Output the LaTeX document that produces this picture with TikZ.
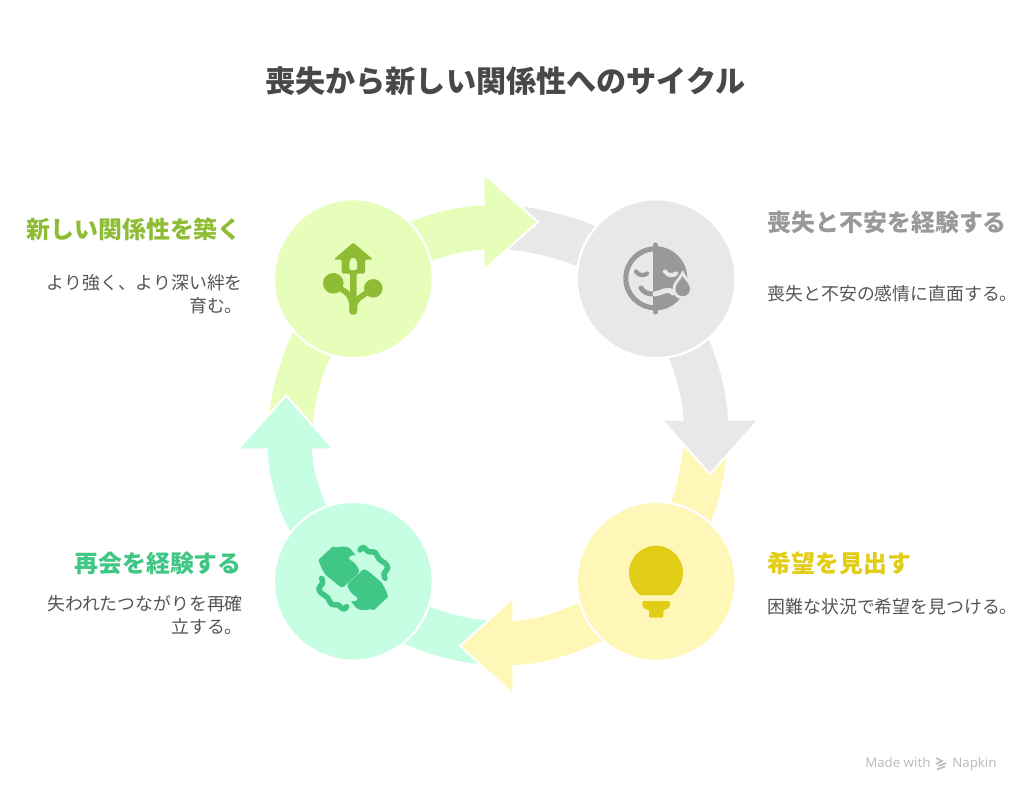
\documentclass[tikz,border=0pt]{standalone}
\usepackage{fontspec}
\setmainfont{Noto Sans CJK JP}
\newfontfamily\latinfont{Noto Sans}
\definecolor{grayFill}{HTML}{E8E8E8}
\definecolor{grayIcon}{HTML}{999999}
\definecolor{yellowFill}{HTML}{FFF7B8}
\definecolor{yellowIcon}{HTML}{E1CD16}
\definecolor{mintFill}{HTML}{C5FEE3}
\definecolor{mintIcon}{HTML}{41C785}
\definecolor{greenFill}{HTML}{E6FEB9}
\definecolor{greenIcon}{HTML}{8FBC35}
\definecolor{titleText}{HTML}{484848}
\definecolor{bodyText}{HTML}{555555}
\definecolor{markText}{HTML}{BDBDBD}
\tikzset{
  band/.style={line width=31.4pt},
  head/.style={draw=white, line width=1.5pt, line join=miter},
  disc/.style={circle, draw=white, line width=1.6pt, inner sep=0pt, minimum size=3.97cm},
  heading/.style={font=\fontsize{17}{20}\selectfont\bfseries, inner sep=0pt},
  bodynote/.style={font=\fontsize{12.7}{16.3}\selectfont, text=bodyText, inner sep=0pt},
  markword/.style={font=\latinfont\fontsize{9.4}{11}\selectfont, text=markText, anchor=base west, inner sep=0pt},
}
\begin{document}
\begin{tikzpicture}[x=0.025cm, y=-0.025cm]
    \useasboundingbox (0, 0) rectangle (1024, 797);

    \coordinate (lossIn) at (500, 227);
    \coordinate (hopeIn) at (706, 437);
    \coordinate (reunionIn) at (496, 643);
    \coordinate (bondIn) at (290, 433);
    \coordinate (lossOut) at (705.7, 423);
    \coordinate (hopeOut) at (510, 643);
    \coordinate (reunionOut) at (290, 447);
    \coordinate (bondOut) at (487, 227.5);

    % circles come last, their centres are known here already
    \coordinate (lossC) at (656.2, 278.7);
    \coordinate (hopeC) at (656.2, 581.3);
    \coordinate (reunionC) at (353.3, 581.3);
    \coordinate (bondC) at (353.3, 278.7);

    % tails
    \draw [band, grayFill] (lossIn) .. controls (560, 229.5) and (611, 255) .. (lossC);
    \draw [band, yellowFill] (hopeIn) .. controls (703.5, 497) and (678, 548) .. (hopeC);
    \draw [band, mintFill] (reunionIn) .. controls (436, 640.5) and (385, 615) .. (reunionC);
    \draw [band, greenFill] (bondIn) .. controls (292.5, 373) and (318, 322) .. (bondC);

    % heads
    \fill [head, fill=grayFill] (661.5, 419.5) -- (759, 419.5) -- (710, 474) -- cycle;
    \fill [head, fill=yellowFill] (513.5, 597.5) -- (513.5, 694.5) -- (460, 646) -- cycle;
    \fill [head, fill=mintFill] (237.5, 449.5) -- (334, 449.5) -- (286, 395.5) -- cycle;
    \fill [head, fill=greenFill] (483.5, 173.5) -- (483.5, 270.5) -- (538, 222) -- cycle;

    \draw [band, grayFill] (lossC) .. controls (680, 325) and (705.7, 377.5) .. (lossOut);
    \draw [band, yellowFill] (hopeC) .. controls (608, 617) and (555.5, 643) .. (hopeOut);
    \draw [band, mintFill] (reunionC) .. controls (316, 545) and (290, 492.5) .. (reunionOut);
    \draw [band, greenFill] (bondC) .. controls (388, 253) and (440.5, 227.5) .. (bondOut);

    \node [disc, fill=grayFill] (loss) at (lossC) {};
    \node [disc, fill=yellowFill] (hope) at (hopeC) {};
    \node [disc, fill=mintFill] (reunion) at (reunionC) {};
    \node [disc, fill=greenFill] (bond) at (bondC) {};

    % bond icon
    \fill [greenIcon, rounded corners=1pt] (353.3, 242.5) -- (373, 259.5) -- (365, 259.5) -- (365, 273.5) -- (356.5, 273.5) -- (356.5, 292) .. controls (356.5, 298) and (356.5, 303) .. (357.5, 310) -- (356.5, 314.5) -- (350, 314.5) -- (349, 310) .. controls (350, 303) and (350, 298) .. (350, 292) -- (350, 273.5) -- (341.7, 273.5) -- (341.7, 259.5) -- (333.7, 259.5) -- cycle;
    \fill [greenFill, rounded corners=1.5pt] (349.3, 270) -- (349.3, 260) -- (353.2, 257.3) -- (357, 260) -- (357, 270) -- cycle;
    \fill [greenIcon] (333.3, 283.3) circle (10.3);
    \fill [greenIcon] (373.3, 288.3) circle (9.3);
    \draw [greenIcon, line width=4pt] (338, 287) -- (345, 291.5) .. controls (350, 295) and (352, 300) .. (353, 309);
    \draw [greenIcon, line width=4pt] (368, 292) -- (362, 296) .. controls (357, 299) and (355, 302) .. (353.5, 309);

    % loss icon
    \draw [grayIcon, line width=3.6pt] (655.3, 278.3) circle (29.5);
    \fill [grayIcon] (655.3, 246.8) -- (655.3, 309.8) arc (90:-90:31.5) -- cycle;
    \draw [grayIcon, line width=3.6pt, line cap=round] (655.3, 245) -- (655.3, 312);
    \draw [grayIcon, line width=3pt, line cap=round] (636, 271.5) .. controls (639, 276) and (644, 276) .. (647, 273.5);
    \draw [grayFill, line width=3pt, line cap=round] (665, 271.5) .. controls (668, 276) and (673, 276) .. (676, 273.5);
    \draw [grayIcon, line width=3.6pt, line cap=round] (641, 288) .. controls (644, 293) and (648, 294) .. (655, 294);
    \draw [grayFill, line width=3.6pt, line cap=round] (655, 294) .. controls (662, 293) and (668, 287) .. (673, 293);
    \fill [grayIcon, draw=grayFill, line width=2pt] (682.7, 273) .. controls (686, 280) and (691.5, 283) .. (691.5, 289) arc (0:180:8.8) .. controls (673.9, 283) and (679, 280) .. (682.7, 273) -- cycle;

    % hope icon
    \fill [yellowIcon] (672, 595) .. controls (679, 589) and (683, 581) .. (683, 572.7) arc (0:-180:27) .. controls (629, 581) and (633, 589) .. (640, 595) -- cycle;
    \fill [yellowIcon, rounded corners=1pt] (642.3, 601) -- (670, 601) -- (670, 606) -- (667, 609.5) -- (663.3, 609.5) -- (663.3, 617.7) -- (649, 617.7) -- (649, 609.5) -- (645.3, 609.5) -- (642.3, 606) -- cycle;

    % reunion icon, one half drawn twice
    \foreach \turn in {0, 180} {
      \begin{scope}[rotate around={\turn:(353.3, 578.3)}]
        \fill [mintIcon, rounded corners=0.8pt] (318.3, 560) -- (333.3, 546) -- (335, 547.7) .. controls (339, 546.5) and (346, 546) .. (350, 548.3) -- (356, 555.7) -- (351.7, 555) -- (348.3, 558.3) -- (355, 563.3) -- (359.3, 570) -- (358.3, 573.3) -- (343.3, 587.3) -- (340, 586.7) -- (325, 574.3) -- (321.7, 568.3) -- cycle;
        \draw [mintIcon, line width=3.9pt, line cap=round, line join=round] plot [smooth, tension=0.8] coordinates {(360, 550) (363.3, 547.3) (368.3, 551.7) (375, 552.3) (379, 559) (385, 563.3) (387.7, 568.3) (384, 573.3) (385, 578.3)};
      \end{scope}
    }

    \node [font=\fontsize{21.4}{25}\selectfont\bfseries, text=titleText] (title) at (505.5, 81) {喪失から新しい関係性へのサイクル};

    \node [heading, text=grayIcon, anchor=west] (lossHead) at (767.5, 222) {喪失と不安を経験する};
    \node [bodynote, anchor=west] (lossNote) at (767.5, 294) {喪失と不安の感情に直面する。};
    \node [heading, text=yellowIcon, anchor=west] (hopeHead) at (767.5, 563) {希望を見出す};
    \node [bodynote, anchor=west] (hopeNote) at (767.5, 606.5) {困難な状況で希望を見つける。};
    \node [heading, text=mintIcon, anchor=east] (reunionHead) at (242, 563) {再会を経験する};
    \node [bodynote, anchor=east, align=right] (reunionNote) at (243, 615) {失われたつながりを再確\\立する。};
    \node [heading, text=greenIcon, anchor=east] (bondHead) at (242, 229) {新しい関係性を築く};
    \node [bodynote, anchor=east, align=right] (bondNote) at (243, 294.5) {より強く、より深い絆を\\育む。};

    % watermark
    \node [markword] (madeWith) at (865, 767) {Made with};
    \node [markword] (napkin) at (952, 767) {Napkin};
    \draw [markText, line width=1.2pt] (936, 758) -- (942, 761) -- (936, 764) (938.5, 766) -- (946, 763) (937, 769.5) -- (945, 766.5);
\end{tikzpicture}
\end{document}
